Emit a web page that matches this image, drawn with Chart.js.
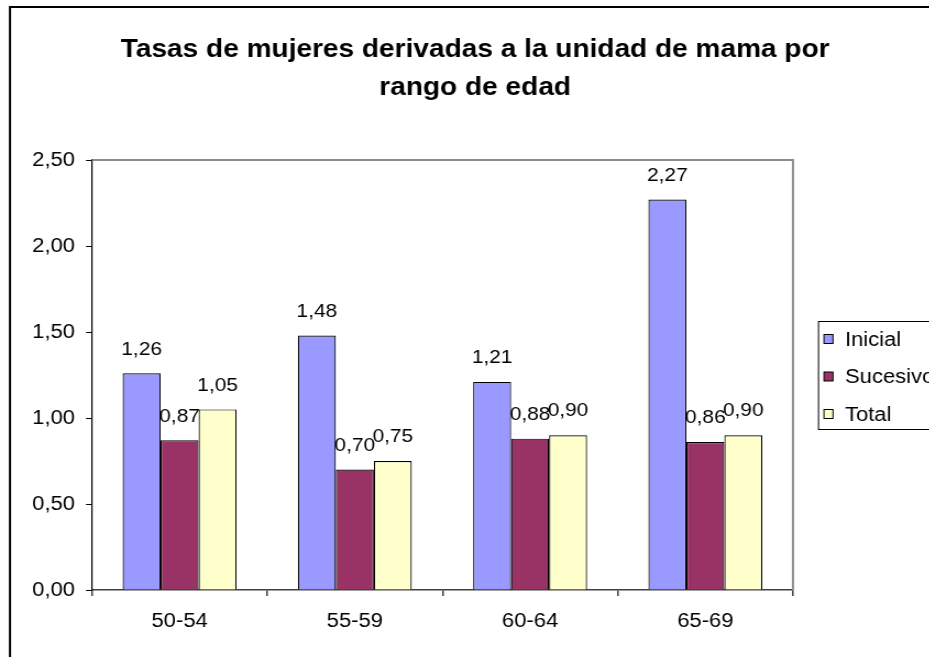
<!DOCTYPE html>
<html>
<head>
<meta charset="utf-8">
<script src="https://cdn.jsdelivr.net/npm/chart.js@4/dist/chart.umd.min.js"></script>
<style>
  html, body { margin: 0; padding: 0; background: #fff; width: 929px; height: 657px; overflow: hidden; }
  #wrap { width: 864px; height: 657px; transform: scaleX(1.1); transform-origin: 0 0; }
  canvas { display: block; background: #fff; }
</style>
</head>
<body>
<div id="wrap"><canvas id="c" width="864" height="657"></canvas></div>
<script>
const titleLines = ['Tasas de mujeres derivadas a la unidad de mama por', 'rango de edad'];
const categories = ['50-54', '55-59', '60-64', '65-69'];
const seriesNames = ['Inicial', 'Sucesivo', 'Total'];
const inicial = [1.26, 1.48, 1.21, 2.27];
const sucesivo = [0.87, 0.70, 0.88, 0.86];
const total = [1.05, 0.75, 0.90, 0.90];
const yMin = 0, yMax = 2.5, yStep = 0.5;

const SX = 1.1;                 // horizontal stretch of the reference picture
const X = v => v / SX;          // reference x -> canvas x
const FONT = '"Liberation Sans", Arial, sans-serif';
const fmt = v => Number(v).toFixed(2).replace('.', ',');

const colors = ['#9999FF', '#993366', '#FFFFCC'];

const decor = {
  id: 'decor',
  beforeDatasetsDraw(chart) {
    const ctx = chart.ctx;
    ctx.save();
    ctx.font = '19px ' + FONT;
    ctx.fillStyle = '#000';
    ctx.textAlign = 'center';
    ctx.textBaseline = 'middle';
    chart.data.datasets.forEach((ds, i) => {
      const meta = chart.getDatasetMeta(i);
      meta.data.forEach((bar, j) => {
        ctx.fillText(fmt(ds.data[j]), bar.x, bar.y - 24);
      });
    });
    ctx.restore();
  },
  afterDraw(chart) {
    const ctx = chart.ctx;
    const a = chart.chartArea;
    ctx.save();
    // plot area top/right border
    ctx.strokeStyle = '#8c8c8c';
    ctx.lineWidth = 2;
    ctx.beginPath();
    ctx.moveTo(a.left, a.top);
    ctx.lineTo(a.right, a.top);
    ctx.lineTo(a.right, a.bottom);
    ctx.stroke();
    // outer chart border
    ctx.strokeStyle = '#000';
    ctx.lineWidth = 2;
    ctx.strokeRect(X(10), 7, 900, 700);
    // legend
    const lx = X(818), ly = 321, lh = 108;
    ctx.strokeStyle = '#000';
    ctx.lineWidth = 1;
    ctx.strokeRect(lx + 0.5, ly + 0.5, 200, lh);
    const ys = [339, 376.5, 414];
    ctx.font = '20px ' + FONT;
    ctx.textAlign = 'left';
    ctx.textBaseline = 'middle';
    chart.data.datasets.forEach((ds, i) => {
      const y = ys[i];
      ctx.fillStyle = ds.backgroundColor;
      ctx.fillRect(X(824), y - 4.5, X(9), 9);
      ctx.lineWidth = 1;
      ctx.strokeStyle = '#000';
      ctx.strokeRect(X(824), y - 4.5, X(9), 9);
      ctx.fillStyle = '#000';
      ctx.fillText(ds.label, X(845), y + 1);
    });
    ctx.restore();
  }
};

new Chart(document.getElementById('c'), {
  type: 'bar',
  data: {
    labels: categories,
    datasets: [
      { label: seriesNames[0], data: inicial, backgroundColor: colors[0] },
      { label: seriesNames[1], data: sucesivo, backgroundColor: colors[1] },
      { label: seriesNames[2], data: total, backgroundColor: colors[2] }
    ].map(d => Object.assign(d, {
      borderColor: '#000', borderWidth: 1.2,
      barPercentage: 1, categoryPercentage: 0.65
    }))
  },
  options: {
    responsive: false,
    maintainAspectRatio: false,
    animation: false,
    devicePixelRatio: 1,
    layout: { padding: { left: 0, right: 0, top: 0, bottom: 0 } },
    plugins: {
      legend: { display: false },
      tooltip: { enabled: false },
      title: {
        display: true,
        text: titleLines,
        color: '#000',
        font: { family: FONT, size: 25.5, weight: 'bold', lineHeight: 38 / 25.5 },
        padding: { top: 31, bottom: 53 }
      }
    },
    scales: {
      x: {
        type: 'category',
        offset: true,
        grid: { display: true, drawOnChartArea: false, drawTicks: true, tickLength: 6, offset: true, color: '#404040', lineWidth: 1.5 },
        border: { display: true, color: '#404040', width: 1.5 },
        ticks: { color: '#000', font: { family: FONT, size: 20 }, padding: 13, maxRotation: 0 },
        afterFit(s) { s.height = 67; }
      },
      y: {
        min: yMin, max: yMax,
        grid: { display: true, drawOnChartArea: false, drawTicks: true, tickLength: X(6), color: '#000', lineWidth: 1 },
        border: { display: true, color: '#000', width: 1.2 },
        ticks: { stepSize: yStep, color: '#000', font: { family: FONT, size: 20 }, padding: X(11), callback: v => fmt(v) },
        afterFit(s) { s.width = X(92); }
      },
      yRight: {
        type: 'linear',
        axis: 'y',
        position: 'right',
        display: true,
        min: yMin, max: yMax,
        grid: { display: false, drawOnChartArea: false, drawTicks: false },
        border: { display: false },
        ticks: { display: false },
        afterFit(s) { s.width = 864 - X(793); }
      }
    }
  },
  plugins: [decor]
});
</script>
</body>
</html>
